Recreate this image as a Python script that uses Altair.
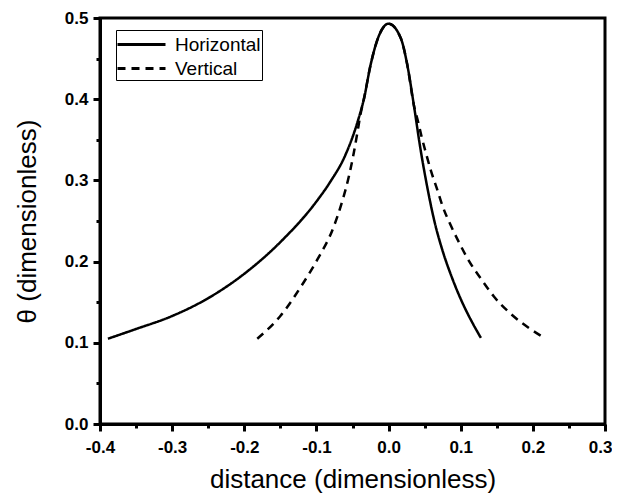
import altair as alt
import pandas as pd

# Horizontal (solid) curve
h_x = [-0.389, -0.35, -0.30, -0.25, -0.20, -0.15, -0.10, -0.081, -0.060, -0.043,
       -0.034, -0.025, -0.013, 0.0, 0.017, 0.026, 0.035, 0.044, 0.054, 0.064,
       0.075, 0.088, 0.102, 0.116, 0.128]
h_y = [0.105, 0.117, 0.133, 0.155, 0.185, 0.224, 0.274, 0.298, 0.331, 0.372,
       0.401, 0.442, 0.479, 0.493, 0.475, 0.442, 0.393, 0.340, 0.290, 0.248,
       0.213, 0.180, 0.150, 0.125, 0.106]

# Vertical (dashed) curve
v_x = [-0.182, -0.15, -0.118, -0.099, -0.076, -0.064, -0.055, -0.048, -0.043, -0.039,
       -0.034, -0.025, -0.013, 0.0, 0.017, 0.026, 0.035, 0.041, 0.046, 0.052,
       0.059, 0.067, 0.075, 0.086, 0.098, 0.112, 0.128, 0.146, 0.169, 0.195, 0.216]
v_y = [0.105, 0.133, 0.174, 0.202, 0.243, 0.275, 0.305, 0.335, 0.360, 0.381,
       0.401, 0.442, 0.479, 0.493, 0.475, 0.442, 0.393, 0.372, 0.353, 0.333,
       0.311, 0.290, 0.268, 0.245, 0.223, 0.200, 0.179, 0.157, 0.136, 0.118, 0.106]

series = ["Horizontal", "Vertical"]
x_major = [-0.4, -0.3, -0.2, -0.1, 0.0, 0.1, 0.2, 0.3]
x_minor = [-0.35, -0.25, -0.15, -0.05, 0.05, 0.15, 0.25]
y_major = [0.0, 0.1, 0.2, 0.3, 0.4, 0.5]
y_minor = [0.05, 0.15, 0.25, 0.35, 0.45]

rows = []
for i, (a, b) in enumerate(zip(h_x, h_y)):
    rows.append({"x": a, "y": b, "s": series[0], "o": i})
for i, (a, b) in enumerate(zip(v_x, v_y)):
    rows.append({"x": a, "y": b, "s": series[1], "o": i})
df = pd.DataFrame(rows)

FONT = "Liberation Sans"
lab = "replace(format(datum.value, '.1f'), '\u2212', '-')"
last = "datum.value > 0.25"

xs = alt.Scale(domain=[-0.4, 0.3], nice=False, zero=False)
ys = alt.Scale(domain=[0.0, 0.5], nice=False, zero=False)

lines = alt.Chart(df).mark_line(color="black", strokeWidth=2.5, interpolate="monotone").encode(
    x=alt.X("x:Q", scale=xs, axis=alt.Axis(
        orient="bottom", values=x_major, labelExpr=lab, title="distance (dimensionless)",
        labelFont=FONT, labelFontSize=17, labelFontWeight="bold", labelColor="black",
        labelAlign={"condition": {"test": last, "value": "right"}, "value": "center"},
        labelOffset={"condition": {"test": last, "value": 7}, "value": 0},
        labelPadding=8, labelFlush=False, tickSize=7, tickWidth=3, tickColor="black",
        domainWidth=3, domainColor="black", grid=False,
        titleFont=FONT, titleFontSize=26, titleFontWeight="normal", titleColor="black",
        titlePadding=11)),
    y=alt.Y("y:Q", scale=ys, axis=alt.Axis(
        orient="left", values=y_major, labelExpr=lab, title="θ (dimensionless)",
        labelFont=FONT, labelFontSize=17, labelFontWeight="bold", labelColor="black",
        labelPadding=5, labelFlush=False, tickSize=7, tickWidth=3, tickColor="black",
        domainWidth=3, domainColor="black", grid=False,
        titleFont=FONT, titleFontSize=26, titleFontWeight="normal", titleColor="black",
        titlePadding=24)),
    strokeDash=alt.StrokeDash("s:N", scale=alt.Scale(domain=series, range=[[1, 0], [8, 6]]),
        legend=alt.Legend(
            title=None, orient="none", legendX=16, legendY=12,
            symbolType="M-2,0H2", symbolSize=576, symbolStrokeWidth=3,
            symbolStrokeColor="black", symbolOffset=11,
            labelFont=FONT, labelFontSize=19, labelColor="black", labelOffset=20,
            strokeColor="black", padding=1, rowPadding=0)),
    order="o:Q",
)

minor = alt.Chart(df).mark_point(opacity=0).encode(
    x=alt.X("x:Q", scale=xs, axis=alt.Axis(
        orient="bottom", values=x_minor, labels=False, title=None, domain=False,
        tickSize=4, tickWidth=3, tickColor="black", grid=False)),
    y=alt.Y("y:Q", scale=ys, axis=alt.Axis(
        orient="left", values=y_minor, labels=False, title=None, domain=False,
        tickSize=4, tickWidth=3, tickColor="black", grid=False)),
)

chart = alt.layer(lines, minor).resolve_axis(x="independent", y="independent").properties(
    width=505, height=406,
    padding={"left": 92, "top": 10, "right": 7, "bottom": 70},
    autosize="none",
).configure_view(stroke="black", strokeWidth=3)

chart.save("out.html", embed_options={"renderer": "svg", "actions": False})
